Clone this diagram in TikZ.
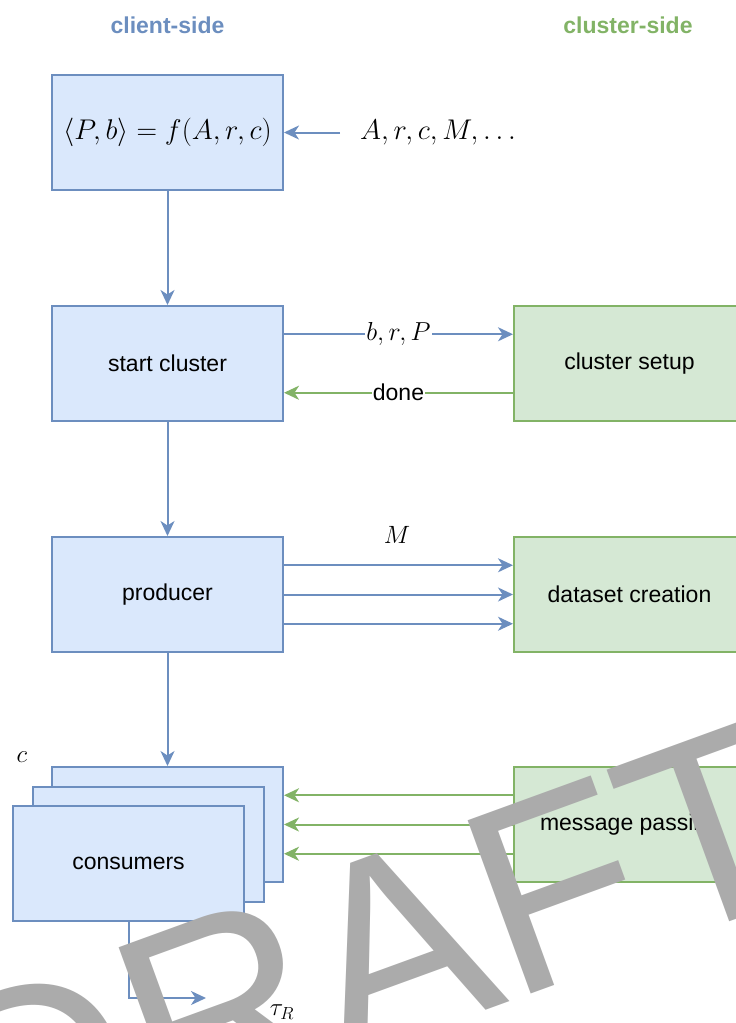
\RequirePackage{fix-cm}
\documentclass[tikz,border=0pt]{standalone}
\usepackage{fontspec}
\setmainfont{Liberation Sans}
\usetikzlibrary{arrows.meta,calc}
\definecolor{bluefill}{HTML}{DAE8FC}
\definecolor{blueline}{HTML}{6C8EBF}
\definecolor{greenfill}{HTML}{D5E8D4}
\definecolor{greenline}{HTML}{82B366}
\definecolor{markgray}{HTML}{ABABAB}
\begin{document}
\begin{tikzpicture}[x=1pt,y=-1pt,
  textfont/.style={font=\fontsize{23}{27}\selectfont},
  clientbox/.style={draw=blueline, fill=bluefill, line width=2pt,
    minimum width=231pt, minimum height=115pt, inner sep=0pt, textfont},
  clusterbox/.style={draw=greenline, fill=greenfill, line width=2pt,
    minimum width=231pt, minimum height=115pt, inner sep=0pt, textfont},
  bluearrow/.style={draw=blueline, line width=2pt,
    -{Stealth[length=15pt,width=14pt,inset=4.5pt]}},
  greenarrow/.style={draw=greenline, line width=2pt,
    -{Stealth[length=15pt,width=14pt,inset=4.5pt]}},
  mathtext/.style={font=\fontsize{25}{30}\selectfont, inner sep=0pt},
  edgelabel/.style={fill=white, inner xsep=1pt, inner ysep=1pt}]
\clip (0,0) rectangle (736,1023);
\useasboundingbox (0,0) rectangle (736,1023);

% column headings
\node[font=\fontsize{23}{27}\selectfont\bfseries, text=blueline] (clienthead) at (167.5,25) {client-side};
\node[font=\fontsize{23}{27}\selectfont\bfseries, text=greenline] (clusterhead) at (628,25) {cluster-side};

% client side
\node[clientbox, font=\fontsize{28.5}{33}\selectfont] (plan) at (167.5,132.5) {$\langle P, b\rangle = f(A, r, c)$};
\node[mathtext, font=\fontsize{28.5}{33}\selectfont, anchor=west, inner xsep=20pt] (inputs) at (340,132.5) {$A, r, c, M, \ldots$};
\node[clientbox] (start) at (167.5,363.5) {start cluster};
\node[clientbox] (producer) at (167.5,594.5) {producer};
\node[clientbox] (consback) at (167.5,824.5) {};
\node[clientbox] (consmid) at (148,844) {};
\node[clientbox] (consfront) at (128.5,863.5) {consumers};
\node[mathtext] (count) at (22,757) {$c$};

% cluster side
\node[clusterbox] (setup) at (629.5,363.5) {cluster setup};
\node[clusterbox] (dataset) at (629.5,594.5) {dataset creation};
\node[clusterbox] (messaging) at (629.5,824.5) {message passing};

% flow on the client side
\draw[bluearrow] (inputs.west) -- (plan.east);
\draw[bluearrow] (plan) -- (start);
\draw[bluearrow] (start) -- (producer);
\draw[bluearrow] (producer) -- (consback);

% exchanges with the cluster
\draw[bluearrow] ($(start.north east)!0.25!(start.south east)$) --
  node[edgelabel, font=\fontsize{26}{30}\selectfont] (brp) {$b, r, P$}
  ($(setup.north west)!0.25!(setup.south west)$);
\draw[greenarrow] ($(setup.north west)!0.75!(setup.south west)$) --
  node[edgelabel, textfont] (done) {done}
  ($(start.north east)!0.75!(start.south east)$);

\foreach \f in {0.25,0.5,0.75}
  \draw[bluearrow] ($(producer.north east)!\f!(producer.south east)$) --
    ($(dataset.north west)!\f!(dataset.south west)$);
\node[mathtext] (msgs) at (397,535) {$M$};

\foreach \f in {0.25,0.5,0.75}
  \draw[greenarrow] ($(messaging.north west)!\f!(messaging.south west)$) --
    ($(consback.north east)!\f!(consback.south east)$);

% result
\coordinate (resend) at (206,998);
\draw[bluearrow] (consfront.south) |- (resend);
\node[mathtext] (tau) at (282,1012) {$\tau_R$};

% watermark
\node[rotate=20, anchor=base west, inner sep=0pt, text=markgray,
  font=\fontsize{268}{268}\selectfont] (mark) at (-21,1195) {DRAFT};
\end{tikzpicture}
\end{document}
